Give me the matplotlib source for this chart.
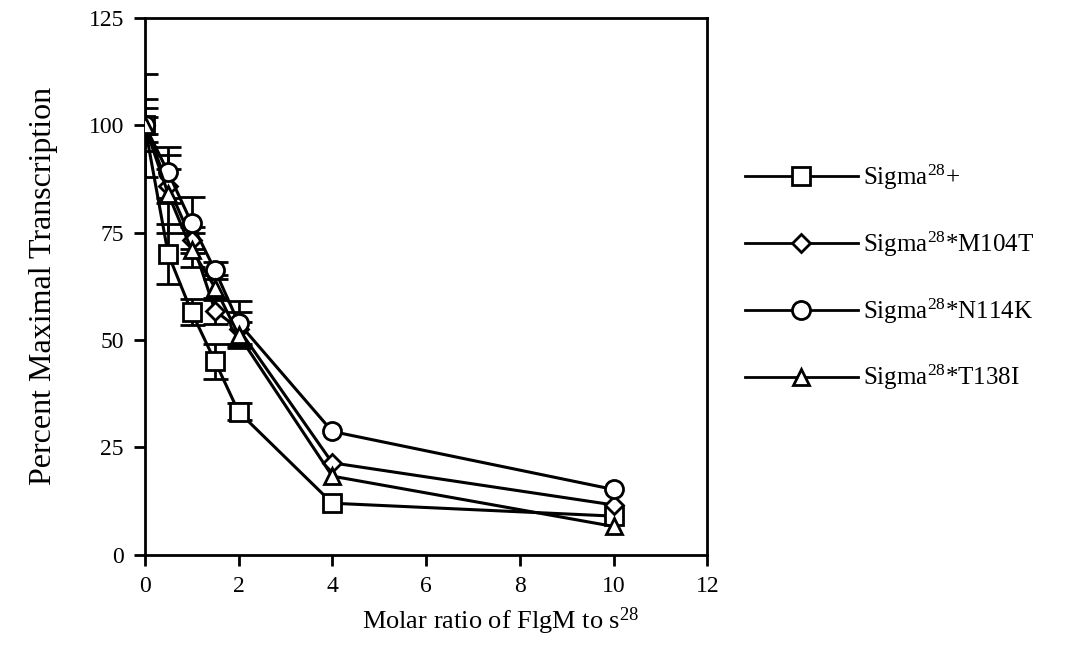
import matplotlib
matplotlib.use("Agg")
import matplotlib.pyplot as plt
import numpy as np

plt.rcParams['font.family'] = ['Liberation Serif', 'DejaVu Serif']
plt.rcParams['mathtext.fontset'] = 'custom'
plt.rcParams['mathtext.rm'] = 'Liberation Serif'
plt.rcParams['mathtext.it'] = 'Liberation Serif:italic'
plt.rcParams['mathtext.bf'] = 'Liberation Serif:bold'

x = [0, 0.5, 1, 1.5, 2, 4, 10]

wt = [100, 70, 56.5, 45, 33.3, 12, 9]
wt_err = [12, 7, 3, 4, 2, np.nan, np.nan]

m104t = [100, 85.8, 73.3, 56.8, 52.6, 21.4, 11.6]
m104t_err = [4, 4, 3, 3, 4, np.nan, np.nan]

n114k = [100, 89, 77.2, 66.2, 54, 28.7, 15.2]
n114k_err = [2, 6, 6, 2, 5, np.nan, np.nan]

t138i = [100, 84, 71, 62.2, 51.2, 18.3, 6.6]
t138i_err = [6, 9, 4, 3, 3, np.nan, np.nan]

labels = [r'Sigma$^{28}$+', r'Sigma$^{28}$*M104T', r'Sigma$^{28}$*N114K', r'Sigma$^{28}$*T138I']
markers = ['s', 'D', 'o', '^']
msizes = [13, 9, 13, 12]

series = [(wt, wt_err), (m104t, m104t_err), (n114k, n114k_err), (t138i, t138i_err)]

fig = plt.figure(figsize=(10.8, 6.55), dpi=100)
ax = fig.add_axes([0.134, 0.153, 0.521, 0.820])

handles = []
for (y, e), lab, mk, ms in zip(series, labels, markers, msizes):
    ax.errorbar(x, y, yerr=e, fmt='none', ecolor='black', elinewidth=2,
                capsize=9, capthick=2, zorder=2)
    h, = ax.plot(x, y, color='black', lw=2.2, marker=mk, ms=ms,
                 markerfacecolor='white', markeredgecolor='black',
                 markeredgewidth=2, label=lab, zorder=3)
    handles.append(h)

ax.set_xlim(0, 12)
ax.set_ylim(0, 125)
ax.set_xticks([0, 2, 4, 6, 8, 10, 12])
ax.set_yticks([0, 25, 50, 75, 100, 125])
ax.tick_params(direction='out', length=8, width=2, labelsize=17, pad=7)
for s in ax.spines.values():
    s.set_linewidth(2)

ax.set_xlabel(r'Molar ratio of FlgM to s$^{28}$', fontsize=19)
ax.xaxis.set_label_coords(0.632, -0.095)
ax.set_ylabel('Percent Maximal Transcription', fontsize=23, labelpad=22)

leg = fig.legend(handles=handles, loc='upper left', bbox_to_anchor=(0.669, 0.786),
                 frameon=False, fontsize=18, handlelength=4.5, handletextpad=0.2,
                 labelspacing=1.5)
for lh in leg.legend_handles:
    lh.set_linewidth(2)

fig.savefig('out.png', dpi=100)
